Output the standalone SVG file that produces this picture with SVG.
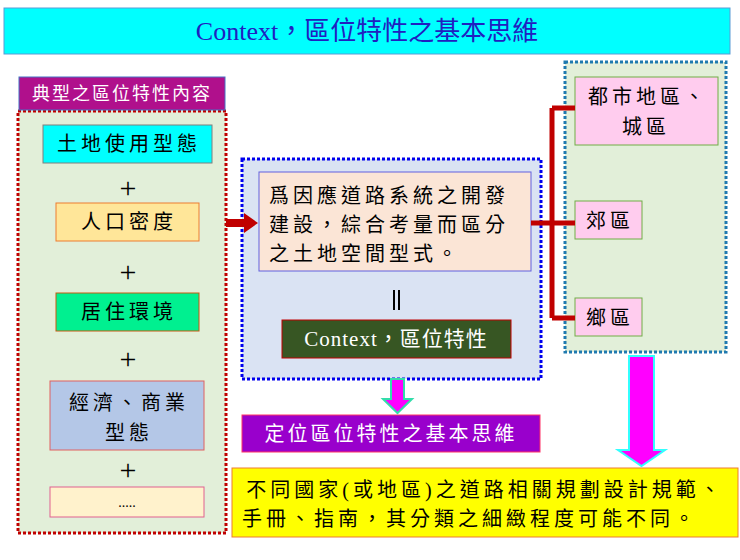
<svg xmlns="http://www.w3.org/2000/svg" width="740" height="560" viewBox="0 0 740 560">
<style>
text{font-family:"Liberation Serif","Noto Sans CJK TC",serif;text-anchor:middle}
.t{font-size:20px;fill:#000;letter-spacing:4px}
.w{fill:#fff}
.plus{font-size:30px}
</style>
<rect width="740" height="560" fill="#fff"/>
<g id="title"><rect x="4" y="8" width="726" height="46" fill="#00ffff" stroke="#5b9bd5"/><text x="367" y="40" font-size="26" fill="#2020c0">Context，區位特性之基本思維</text></g>
<g id="left">
<rect x="18" y="111" width="208" height="422" fill="#e2efd9" stroke="#c00000" stroke-width="3" stroke-dasharray="3,2"/>
<rect x="19" y="77" width="206" height="33" fill="#b0108c" stroke="#4472c4"/><text x="122" y="100" font-size="18" class="w" letter-spacing="2">典型之區位特性內容</text>
</g>
<g id="n1"><rect x="43" y="125" width="169" height="38" fill="#00ffff" stroke="#7f7f7f"/><text class="t" x="129" y="151">土地使用型態</text></g>
<text class="plus" x="128" y="198">+</text>
<g id="n2"><rect x="56" y="203" width="143" height="38" fill="#ffe699" stroke="#ed7d31"/><text class="t" x="129" y="229">人口密度</text></g>
<text class="plus" x="128" y="282">+</text>
<g id="n3"><rect x="56" y="293" width="143" height="38" fill="#00f090" stroke="#c55a11"/><text class="t" x="129" y="319">居住環境</text></g>
<text class="plus" x="128" y="369">+</text>
<g id="n4"><rect x="50" y="381" width="154" height="69" fill="#b4c7e7" stroke="#e06060"/><text class="t" x="129" y="410">經濟、商業</text><text class="t" x="129" y="440">型態</text></g>
<text class="plus" x="128" y="480">+</text>
<g id="n5"><rect x="50" y="487" width="154" height="30" fill="#fff2cc" stroke="#e06090"/><text x="127" y="507" font-size="14">.....</text></g>
<g id="mid">
<rect x="242" y="159" width="299" height="220" fill="#dae3f3" stroke="#0000ee" stroke-width="3" stroke-dasharray="3,2"/>
<rect x="259" y="172" width="272" height="99" fill="#fbe5d6" stroke="#6060e0"/>
<text class="t" x="269" y="203" style="text-anchor:start">爲因應道路系統之開發</text>
<text class="t" x="269" y="232" style="text-anchor:start">建設，綜合考量而區分</text>
<text class="t" x="269" y="261" style="text-anchor:start">之土地空間型式。</text>
<path d="M394 290V310M399 290V310" stroke="#000" stroke-width="2"/>
</g>
<g id="ctx"><rect x="282" y="320" width="229" height="38" fill="#375623" stroke="#c00000"/><text x="396" y="346" font-size="21" class="w" letter-spacing="1">Context，區位特性</text></g>
<g id="basic"><rect x="242" y="415" width="298" height="37" fill="#9900cc" stroke="#ff3366"/><text x="391" y="441" font-size="20" class="w" letter-spacing="3">定位區位特性之基本思維</text></g>
<g id="right">
<rect x="565" y="62" width="161" height="290" fill="#e2efd9" stroke="#1f7ab0" stroke-width="3" stroke-dasharray="3,2"/>
</g>
<g id="r1"><rect x="575" y="77" width="143" height="68" fill="#ffccee" stroke="#70ad47"/><text class="t" x="648" y="104">都市地區、</text><text class="t" x="646" y="134">城區</text></g>
<g id="r2"><rect x="575" y="201" width="67" height="38" fill="#ffccee" stroke="#70ad47"/><text class="t" x="610" y="228">郊區</text></g>
<g id="r3"><rect x="575" y="298" width="67" height="38" fill="#ffccee" stroke="#70ad47"/><text class="t" x="610" y="325">鄉區</text></g>
<g id="yellow"><rect x="232" y="468" width="506" height="69" fill="#ffff00" stroke="#ed7d31"/><text class="t" x="485" y="497" letter-spacing="2">不同國家(或地區)之道路相關規劃設計規範、</text><text class="t" x="242" y="526" style="text-anchor:start" letter-spacing="5">手冊、指南，其分類之細緻程度可能不同。</text></g>
<g id="connectors">
<polygon points="226,219 244,219 244,213 258,223 244,233 244,227 226,227" fill="#c00000"/>
<path d="M531 223H575M552 108V318M552 108H575M552 318H575" fill="none" stroke="#c00000" stroke-width="5"/>
<polygon points="391,379 404,379 404,399 412,399 397.5,413 383,399 391,399" fill="#ff00ff" stroke="#33ddaa" stroke-width="2"/>
<polygon points="629,356 654,356 654,450 665,450 641.5,466 618,450 629,450" fill="#ff00ff" stroke="#33ffff" stroke-width="2"/>
</g>
</svg>
